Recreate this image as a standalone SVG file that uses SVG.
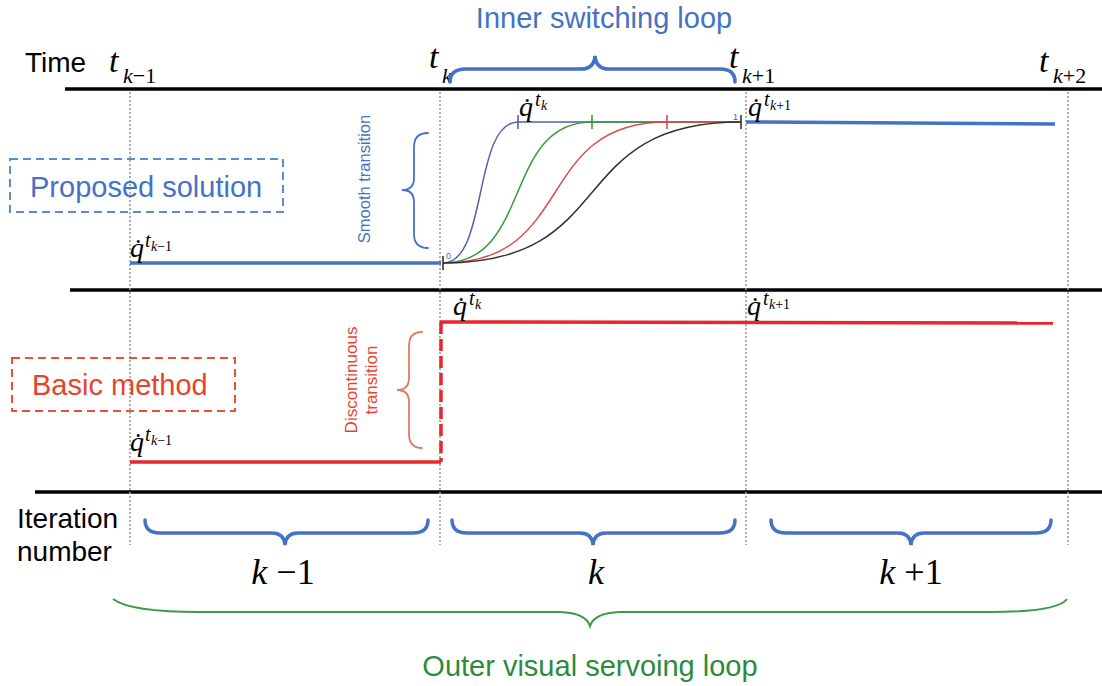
<svg xmlns="http://www.w3.org/2000/svg" width="1102" height="686" viewBox="0 0 1102 686">
<style>
.sans{font-family:"Liberation Sans",Arial,sans-serif}
.math{font-family:"Liberation Serif","Times New Roman",serif;font-style:italic}
.axis{stroke:#000;stroke-width:3.5;fill:none}
.dot{stroke:#9a9a9a;stroke-width:1.6;stroke-dasharray:2 2;fill:none}
.blueline{stroke:#4472c4;stroke-width:3.5;fill:none}
.redline{stroke:#e8262b;stroke-width:3.5;fill:none}
.brace{stroke:#4472c4;stroke-width:3.5;fill:none;stroke-linecap:round}
.thinbrace{stroke:#4472c4;stroke-width:1.8;fill:none;stroke-linecap:round}
.orbrace{stroke:#e07a5f;stroke-width:1.8;fill:none;stroke-linecap:round}
.curve{stroke-width:1.5;fill:none}
.tick{stroke-width:1.6}
.q{font-size:28px}
.qs{font-size:20px}
.qss{font-size:14px}
.tt{font-size:34px}
.ts{font-size:22px}
</style>
<rect width="1102" height="686" fill="#fff"/>

<g id="axes">
<line class="axis" x1="65" y1="89" x2="1102" y2="89"/>
<line class="axis" x1="70" y1="290" x2="1102" y2="290"/>
<line class="axis" x1="35" y1="492" x2="1102" y2="492"/>
</g>

<g id="time-marks">
<line class="dot" x1="130" y1="92" x2="130" y2="545"/>
<line class="dot" x1="440" y1="92" x2="440" y2="545"/>
<line class="dot" x1="746" y1="92" x2="746" y2="545"/>
<line class="dot" x1="1068" y1="92" x2="1068" y2="545"/>
</g>

<g id="time-labels">
<text class="sans" x="25" y="72" font-size="28">Time</text>
<text class="math tt" x="109" y="72">t</text><text class="math ts" x="123" y="83">k<tspan font-style="normal">−1</tspan></text>
<text class="math tt" x="429" y="68">t</text><text class="math ts" x="442" y="83">k</text>
<text class="math tt" x="729" y="68">t</text><text class="math ts" x="742" y="83">k<tspan font-style="normal">+1</tspan></text>
<text class="math tt" x="1039" y="72">t</text><text class="math ts" x="1053" y="83">k<tspan font-style="normal">+2</tspan></text>
</g>

<g id="inner-loop">
<path class="brace" d="M450,82 Q450,69 466,69 L581,69 Q594,69 595,56 Q596,69 609,69 L720,69 Q735,69 735,82"/>
<text class="sans" x="604" y="28" font-size="29" fill="#4472c4" text-anchor="middle">Inner switching loop</text>
</g>

<g id="proposed-solution">
<rect x="10" y="159" width="273" height="53" fill="none" stroke="#5b8bd0" stroke-width="2" stroke-dasharray="8 5"/>
<text class="sans" x="30" y="197" font-size="29" fill="#4472c4">Proposed solution</text>
</g>

<g id="proposed-signal">
<line class="blueline" x1="130" y1="263" x2="441" y2="263"/>
<line class="blueline" x1="746" y1="122" x2="1055" y2="124"/>
<path class="curve" stroke="#5560b0" d="M443,263 C488,263 473,122 518,122 L741,122"/>
<path class="curve" stroke="#3a9a3a" d="M443,263 C532,263 503,122 592,122 L741,122"/>
<path class="curve" stroke="#e04848" d="M443,263 C577,263 533,122 667,122 L741,122"/>
<path class="curve" stroke="#333" d="M443,263 C622,263 562,122 741,122"/>
<line class="tick" stroke="#333" x1="443" y1="256" x2="443" y2="270"/>
<line class="tick" stroke="#5560b0" x1="518" y1="115" x2="518" y2="129"/>
<line class="tick" stroke="#3a9a3a" x1="592" y1="115" x2="592" y2="129"/>
<line class="tick" stroke="#e04848" x1="667" y1="115" x2="667" y2="129"/>
<line class="tick" stroke="#333" x1="741" y1="115" x2="741" y2="129"/>
<text class="sans" x="446" y="259" font-size="9" fill="#666">0</text>
<text class="sans" x="733" y="120" font-size="9" fill="#666">1</text>
<path class="thinbrace" d="M428,133 Q414,133 414,147 L414,178 Q414,190 402,190 Q414,190 414,202 L414,234 Q414,248 428,248"/>
<text class="sans" font-size="16.5" fill="#4472c4" text-anchor="middle" transform="translate(370,179) rotate(-90)">Smooth transition</text>
<text class="math q" x="130" y="257">q̇</text><text class="math qs" x="145" y="247">t</text><text class="math qss" x="151" y="251">k<tspan font-style="normal">−1</tspan></text>
<text class="math q" x="519" y="116">q̇</text><text class="math qs" x="535" y="106">t</text><text class="math qss" x="541" y="110">k</text>
<text class="math q" x="748" y="116">q̇</text><text class="math qs" x="764" y="106">t</text><text class="math qss" x="770" y="110">k<tspan font-style="normal">+1</tspan></text>
</g>

<g id="basic-method">
<rect x="12" y="358" width="223" height="53" fill="none" stroke="#e8503a" stroke-width="2" stroke-dasharray="8 5"/>
<text class="sans" x="32" y="395" font-size="29" fill="#e8432d">Basic method</text>
</g>

<g id="basic-signal">
<line class="redline" x1="130" y1="462" x2="441" y2="462"/>
<line class="redline" x1="440" y1="322" x2="1053" y2="323"/>
<line class="redline" x1="441" y1="322" x2="441" y2="462" stroke-dasharray="12 5"/>
<path class="orbrace" d="M422,332 Q409,332 409,346 L409,378 Q409,390 397,390 Q409,390 409,402 L409,434 Q409,448 422,448"/>
<g class="sans" font-size="17" fill="#e8432d" text-anchor="middle">
<text transform="translate(357,380) rotate(-90)">Discontinuous</text>
<text transform="translate(377,380) rotate(-90)">transition</text>
</g>
<text class="math q" x="453" y="315">q̇</text><text class="math qs" x="469" y="305">t</text><text class="math qss" x="475" y="309">k</text>
<text class="math q" x="747" y="315">q̇</text><text class="math qs" x="763" y="305">t</text><text class="math qss" x="769" y="309">k<tspan font-style="normal">+1</tspan></text>
<text class="math q" x="130" y="451">q̇</text><text class="math qs" x="145" y="441">t</text><text class="math qss" x="151" y="445">k<tspan font-style="normal">−1</tspan></text>
</g>

<g id="iterations">
<text class="sans" x="17" y="528" font-size="28">Iteration</text>
<text class="sans" x="17" y="561" font-size="28">number</text>
<path class="brace" d="M145,520 Q145,533 160,533 L272,533 Q284,533 285,545 Q286,533 298,533 L413,533 Q428,533 428,520"/>
<path class="brace" d="M452,520 Q452,533 467,533 L580,533 Q592,533 593,545 Q594,533 606,533 L720,533 Q735,533 735,520"/>
<path class="brace" d="M771,520 Q771,533 786,533 L898,533 Q910,533 911,545 Q912,533 924,533 L1036,533 Q1051,533 1051,520"/>
<text class="math" x="283" y="584" font-size="36" text-anchor="middle">k <tspan font-style="normal">−1</tspan></text>
<text class="math" x="596" y="584" font-size="36" text-anchor="middle">k</text>
<text class="math" x="911" y="584" font-size="36" text-anchor="middle">k <tspan font-style="normal">+1</tspan></text>
</g>

<g id="outer-loop">
<path fill="none" stroke="#3a9a4a" stroke-width="2" d="M113,599 Q130,612 200,612 L560,612 Q586,613 590,626 Q594,613 620,612 L990,612 Q1058,612 1067,599"/>
<text class="sans" x="590" y="676" font-size="29" fill="#2e8b3e" text-anchor="middle">Outer visual servoing loop</text>
</g>
</svg>
